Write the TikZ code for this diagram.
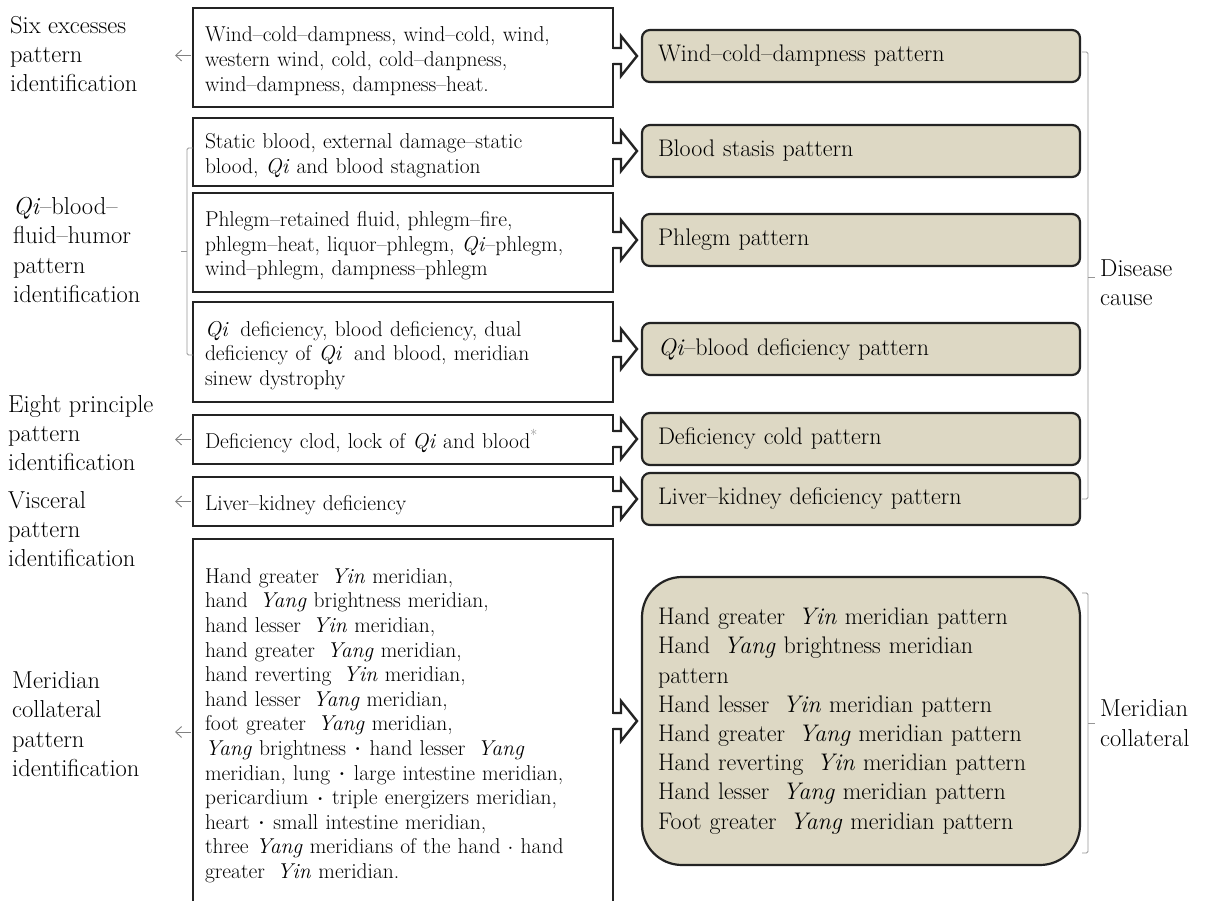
\documentclass[tikz,border=0pt]{standalone}
\usetikzlibrary{arrows.meta,calc}
\definecolor{beige}{RGB}{221,216,196}
\definecolor{dark}{RGB}{35,35,35}
\definecolor{brk}{RGB}{150,150,150}
\newcommand\xs{\hspace{0.55em}}
\newcommand\sbul{\raisebox{0.12em}{\scalebox{0.6}{\textbullet}}}
\newcommand\blockarr[2]{%
  \coordinate (ba) at (#1.east |- #2.west);
  \fill[white] ([xshift=-1.6pt,yshift=-6.6pt]ba) rectangle ([xshift=1pt,yshift=6.6pt]ba);
  \draw[arrl] ([yshift=8pt]ba) -- ++(8,0) -- ++(0,-12) -- ++(16,20) -- ++(-16,20) -- ++(0,-12) -- ++(-8,0);
}
\begin{document}
\begin{tikzpicture}[x=1pt,y=-1pt,
  bx/.style={draw=dark,line width=2.4pt,fill=white,anchor=north west,outer sep=0pt,
    minimum width=420pt,text width=396pt,inner xsep=12pt,inner ysep=0pt,align=left,
    font=\fontsize{21.5}{24.6}\selectfont,execute at begin node={\rule{0pt}{22pt}}},
  gb/.style={draw=dark,line width=2.2pt,fill=beige,rounded corners=8pt,anchor=west,outer sep=0pt,
    minimum width=438pt,minimum height=52pt,text width=406pt,inner xsep=16pt,align=left,
    font=\fontsize{24}{29.2}\selectfont},
  lbl/.style={anchor=west,align=left,inner sep=0pt,font=\fontsize{24.5}{29.3}\selectfont},
  brace/.style={draw=brk,line width=0.9pt,rounded corners=1.5pt},
  sarr/.style={draw=gray,line width=0.9pt,-{Straight Barb[length=6pt,width=11pt]}},
  arrl/.style={draw=dark,line width=2.4pt,fill=white}
]
\useasboundingbox (0,0) rectangle (1206,901);

% left boxes
\node[bx,minimum height=99pt] (B1) at (193,8)
  {Wind–cold–dampness, wind–cold, wind,\\ western wind, cold, cold–danpness,\\ wind–dampness, dampness–heat.};
\node[bx,minimum height=68pt] (B2) at (193,118)
  {Static blood, external damage–static\\ blood, \textit{Qi} and blood stagnation};
\node[bx,minimum height=99pt] (B3) at (193,193)
  {Phlegm–retained fluid, phlegm–fire,\\ phlegm–heat, liquor–phlegm, \textit{Qi}–phlegm,\\ wind–phlegm, dampness–phlegm};
\node[bx,minimum height=100pt] (B4) at (193,302)
  {\textit{Qi}\xs deficiency, blood deficiency, dual\\ deficiency of \textit{Qi}\xs and blood, meridian\\ sinew dystrophy};
\node[bx,minimum height=49pt] (B5) at (193,415)
  {Deficiency clod, lock of \textit{Qi} and blood\textsuperscript{\textcolor{gray}{*}}};
\node[bx,minimum height=49pt] (B6) at (193,477)
  {Liver–kidney deficiency};
\node[bx,draw=none,minimum height=366pt] (B7) at (193,539)
  {Hand greater\xs\textit{Yin} meridian,\\
   hand\xs\textit{Yang} brightness meridian,\\
   hand lesser\xs\textit{Yin} meridian,\\
   hand greater\xs\textit{Yang} meridian,\\
   hand reverting\xs\textit{Yin} meridian,\\
   hand lesser\xs\textit{Yang} meridian,\\
   foot greater\xs\textit{Yang} meridian,\\
   \textit{Yang} brightness \sbul{} hand lesser\xs\textit{Yang}\\
   meridian, lung \sbul{} large intestine meridian,\\
   pericardium \sbul{} triple energizers meridian,\\
   heart \sbul{} small intestine meridian,\\
   three \textit{Yang} meridians of the hand $\cdot$ hand\\
   greater\xs\textit{Yin} meridian.};
\draw[draw=dark,line width=2.4pt] (B7.south west) -- (B7.north west) -- (B7.north east) -- (B7.south east);

% right boxes
\node[gb] (G1) at (642,56) {Wind–cold–dampness pattern};
\node[gb] (G2) at (642,151) {Blood stasis pattern};
\node[gb] (G3) at (642,240) {Phlegm pattern};
\node[gb] (G4) at (642,349) {\textit{Qi}–blood deficiency pattern};
\node[gb] (G5) at (642,439) {Deficiency cold pattern};
\node[gb] (G6) at (642,499) {Liver–kidney deficiency pattern};
\node[gb,rounded corners=40pt,minimum height=288pt] (G7) at (642,721)
  {Hand greater\xs\textit{Yin} meridian pattern\\
   Hand\xs\textit{Yang} brightness meridian\\
   pattern\\
   Hand lesser\xs\textit{Yin} meridian pattern\\
   Hand greater\xs\textit{Yang} meridian pattern\\
   Hand reverting\xs\textit{Yin} meridian pattern\\
   Hand lesser\xs\textit{Yang} meridian pattern\\
   Foot greater\xs\textit{Yang} meridian pattern};

% block arrows
\blockarr{B1}{G1}
\blockarr{B2}{G2}
\blockarr{B3}{G3}
\blockarr{B4}{G4}
\blockarr{B5}{G5}
\blockarr{B6}{G6}
\blockarr{B7}{G7}

% left labels
\node[lbl] (L1) at (10,54) {Six excesses\\pattern\\identification};
\node[lbl] (L2) at (13,250) {\textit{Qi}–blood–\\fluid–humor\\pattern\\identification};
\node[lbl] (L3) at (8,433) {Eight principle\\pattern\\identification};
\node[lbl] (L4) at (8,529) {Visceral\\pattern\\identification};
\node[lbl] (L5) at (12,724) {Meridian\\collateral\\pattern\\identification};

% small arrows
\draw[sarr] ([xshift=-2pt,yshift=2pt]B1.west) -- ++(-16,0);
\draw[sarr] ([xshift=-2pt]B5.west) -- ++(-16,0);
\draw[sarr] ([xshift=-2pt]B6.west) -- ++(-16,0);
\draw[sarr] ([xshift=-2pt,yshift=-10pt]B7.west) -- ++(-16,0);

% left brace
\draw[brace] (193,148) -- (187,148) -- (187,355) -- (193,355);
\draw[brace] (187,251) -- (181,251);

% right labels and braces
\node[lbl] (D) at (1100,283) {Disease\\cause};
\node[lbl] (M) at (1100,723) {Meridian\\collateral};
\draw[brace] (1082,52) -- (1088,52) -- (1088,499) -- (1082,499);
\draw[brace] (1088,277) -- (1095,277);
\draw[brace] (1082,593) -- (1088,593) -- (1088,853) -- (1082,853);
\draw[brace] (1088,723) -- (1095,723);
\end{tikzpicture}
\end{document}
